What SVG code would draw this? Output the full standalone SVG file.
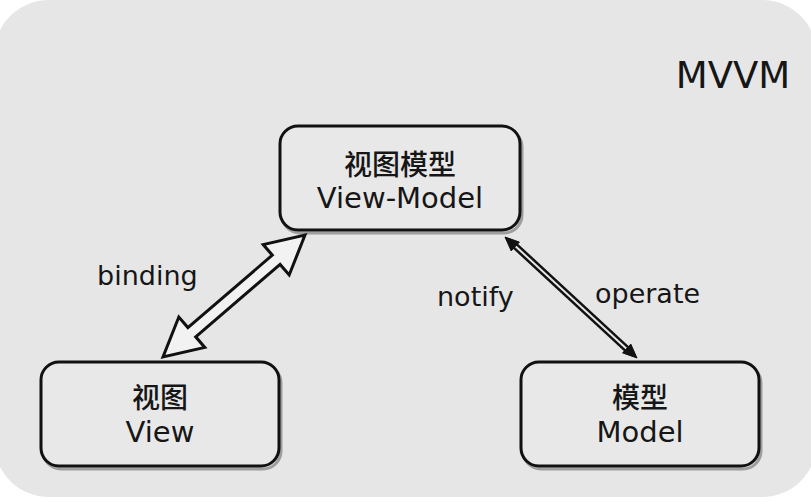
<svg xmlns="http://www.w3.org/2000/svg" width="811" height="502" viewBox="0 0 811 502">
<style>
.box{fill:#e8e8e8;stroke:#111;stroke-width:3}
.sh{fill:none;stroke:#555;stroke-width:3;opacity:0.5}
.t{font-family:"DejaVu Sans","Noto Sans CJK SC",sans-serif;fill:#161616;text-anchor:middle}
.cjk{font-family:"Noto Sans CJK SC",sans-serif;fill:#161616;text-anchor:middle;font-weight:500}
.lbl{font-family:"DejaVu Sans",sans-serif;fill:#161616;font-size:27px}
</style>
<rect x="0" y="0" width="811" height="502" fill="#ffffff"/>
<rect x="-6" y="0" width="823" height="497" rx="55" fill="#e6e6e6"/>
<text class="t" x="733" y="88" font-size="37">MVVM</text>
<g id="viewmodel">
<rect class="sh" x="282" y="129" width="240" height="104" rx="18"/>
<rect class="box" x="280" y="126" width="240" height="104" rx="18"/>
<text class="cjk" x="400" y="175" font-size="28">视图模型</text>
<text class="t" x="400" y="208" font-size="29">View-Model</text>
</g>
<g id="view">
<rect class="sh" x="43" y="365" width="238" height="104" rx="18"/>
<rect class="box" x="41" y="362" width="238" height="104" rx="18"/>
<text class="cjk" x="160" y="408" font-size="28">视图</text>
<text class="t" x="160" y="442" font-size="29">View</text>
</g>
<g id="model">
<rect class="sh" x="523" y="365" width="238" height="104" rx="18"/>
<rect class="box" x="521" y="362" width="238" height="104" rx="18"/>
<text class="cjk" x="640" y="408" font-size="28">模型</text>
<text class="t" x="640" y="442" font-size="29">Model</text>
</g>
<g id="connectors">
<polygon points="305,235 289.2,275 280.1,264.4 195.7,336.8 204.8,347.4 163,357 178.8,317 187.9,327.6 272.3,255.2 263.2,244.6" fill="#f2f2f2" stroke="#111" stroke-width="3" stroke-linejoin="miter"/>
<line x1="512" y1="243" x2="630" y2="352" stroke="#111" stroke-width="7"/>
<line x1="512" y1="243" x2="630" y2="352" stroke="#e6e6e6" stroke-width="2"/>
<polygon points="505,237 511.2,250.9 519.4,242.1" fill="#111" stroke="#111" stroke-width="1"/>
<polygon points="637,358 622.6,352.9 630.8,344.1" fill="#111" stroke="#111" stroke-width="1"/>
<text class="lbl" x="97" y="285">binding</text>
<text class="lbl" x="437" y="306">notify</text>
<text class="lbl" x="595" y="303">operate</text>
</g>
</svg>
